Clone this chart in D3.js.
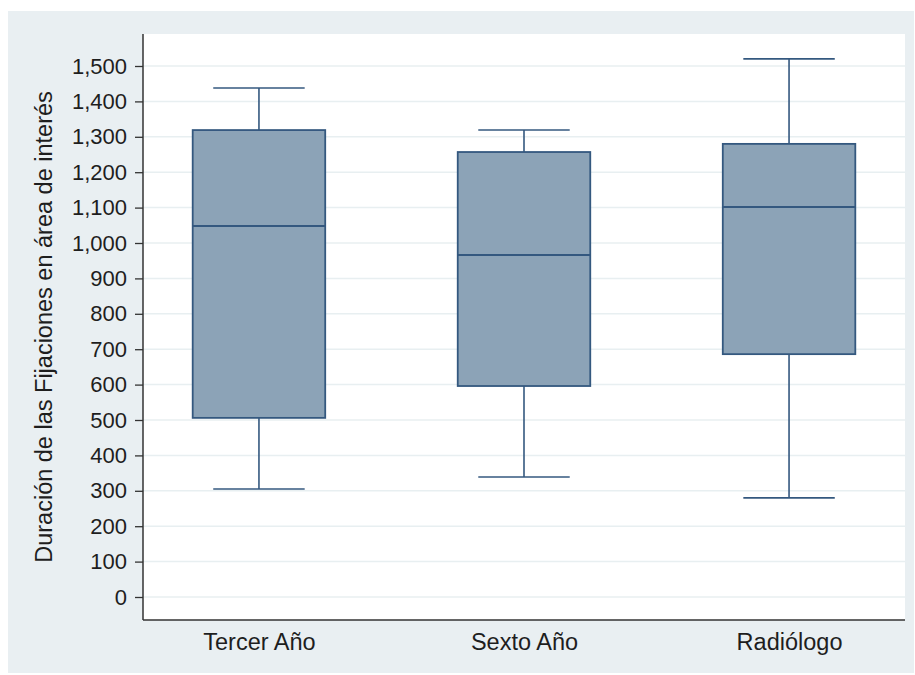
<!DOCTYPE html>
<html>
<head>
<meta charset="utf-8">
<script src="https://cdn.jsdelivr.net/npm/d3@7"></script>
<style>
  body { margin: 0; background: #fff; }
  svg text { font-family: "Liberation Sans", Arial, sans-serif; fill: #1e1e1e; }
</style>
</head>
<body>
<div id="container"></div>
<script>
// data
const categories = ["Tercer Año", "Sexto Año", "Radiólogo"];
const lowWhisker = [305, 339, 280];
const q1 = [506, 596, 686];
const median = [1048, 966, 1102];
const q3 = [1319, 1257, 1280];
const highWhisker = [1438, 1319, 1520];
const yTicks = d3.range(0, 1501, 100);

const width = 915, height = 675;
const plot = { left: 143, right: 905, top: 34, bottom: 620 };

const svg = d3.select("#container").append("svg")
    .attr("width", width)
    .attr("height", height);

// outer panel
svg.append("rect")
    .attr("x", 8).attr("y", 11)
    .attr("width", 906).attr("height", 662)
    .attr("fill", "#e9eff2");

svg.append("rect")
    .attr("x", plot.left).attr("y", plot.top)
    .attr("width", plot.right - plot.left).attr("height", plot.bottom - plot.top)
    .attr("fill", "#ffffff");

// scales
const y = d3.scaleLinear()
    .domain([0, 1500])
    .range([597, 66]);

const x = d3.scalePoint()
    .domain(categories)
    .range([plot.left, plot.right])
    .padding(0.4375);

const boxW = x.step() * 0.5;
const capW = x.step() * 0.345;

// grid
svg.append("g")
    .selectAll("line")
    .data(yTicks)
    .enter()
    .append("line")
    .attr("x1", plot.left).attr("x2", plot.right)
    .attr("y1", d => y(d)).attr("y2", d => y(d))
    .attr("stroke", "#e8eff1")
    .attr("stroke-width", 1.5);

// axes
const yAxis = d3.axisLeft(y)
    .tickValues(yTicks)
    .tickSize(8)
    .tickPadding(8)
    .tickFormat(d3.format(","));

const ya = svg.append("g")
    .attr("transform", "translate(" + plot.left + ",0)")
    .call(yAxis);
ya.select(".domain").remove();
ya.selectAll(".tick line").attr("stroke", "#333").attr("stroke-width", 1.3);
ya.selectAll(".tick text").style("font-size", "22px").attr("fill", "#1e1e1e");

svg.append("line")
    .attr("x1", plot.left).attr("x2", plot.left)
    .attr("y1", plot.top).attr("y2", plot.bottom)
    .attr("stroke", "#333").attr("stroke-width", 1.5);
svg.append("line")
    .attr("x1", plot.left).attr("x2", plot.right)
    .attr("y1", plot.bottom).attr("y2", plot.bottom)
    .attr("stroke", "#333").attr("stroke-width", 1.5);

const xAxis = d3.axisBottom(x).tickSize(0).tickPadding(13);
const xa = svg.append("g")
    .attr("transform", "translate(0," + plot.bottom + ")")
    .call(xAxis);
xa.select(".domain").remove();
xa.selectAll(".tick text").style("font-size", "23.5px").attr("fill", "#1e1e1e");

svg.append("text")
    .attr("transform", "translate(52,327) rotate(-90)")
    .attr("text-anchor", "middle")
    .style("font-size", "23.5px")
    .text("Duración de las Fijaciones en área de interés");

// boxes
const stroke = "#34587f";
const boxes = svg.selectAll(".box")
    .data(categories)
    .enter()
    .append("g")
    .attr("class", "box");

boxes.append("line")
    .attr("x1", d => x(d)).attr("x2", d => x(d))
    .attr("y1", (d, i) => y(q3[i])).attr("y2", (d, i) => y(highWhisker[i]))
    .attr("stroke", stroke).attr("stroke-width", 1.6);
boxes.append("line")
    .attr("x1", d => x(d)).attr("x2", d => x(d))
    .attr("y1", (d, i) => y(q1[i])).attr("y2", (d, i) => y(lowWhisker[i]))
    .attr("stroke", stroke).attr("stroke-width", 1.6);
boxes.append("line")
    .attr("x1", d => x(d) - capW / 2).attr("x2", d => x(d) + capW / 2)
    .attr("y1", (d, i) => y(highWhisker[i])).attr("y2", (d, i) => y(highWhisker[i]))
    .attr("stroke", stroke).attr("stroke-width", 1.6);
boxes.append("line")
    .attr("x1", d => x(d) - capW / 2).attr("x2", d => x(d) + capW / 2)
    .attr("y1", (d, i) => y(lowWhisker[i])).attr("y2", (d, i) => y(lowWhisker[i]))
    .attr("stroke", stroke).attr("stroke-width", 1.6);

boxes.append("rect")
    .attr("x", d => x(d) - boxW / 2)
    .attr("y", (d, i) => y(q3[i]))
    .attr("width", boxW)
    .attr("height", (d, i) => y(q1[i]) - y(q3[i]))
    .attr("fill", "#8ca3b7")
    .attr("stroke", stroke).attr("stroke-width", 1.8);

boxes.append("line")
    .attr("x1", d => x(d) - boxW / 2).attr("x2", d => x(d) + boxW / 2)
    .attr("y1", (d, i) => y(median[i])).attr("y2", (d, i) => y(median[i]))
    .attr("stroke", stroke).attr("stroke-width", 2);
</script>
</body>
</html>
